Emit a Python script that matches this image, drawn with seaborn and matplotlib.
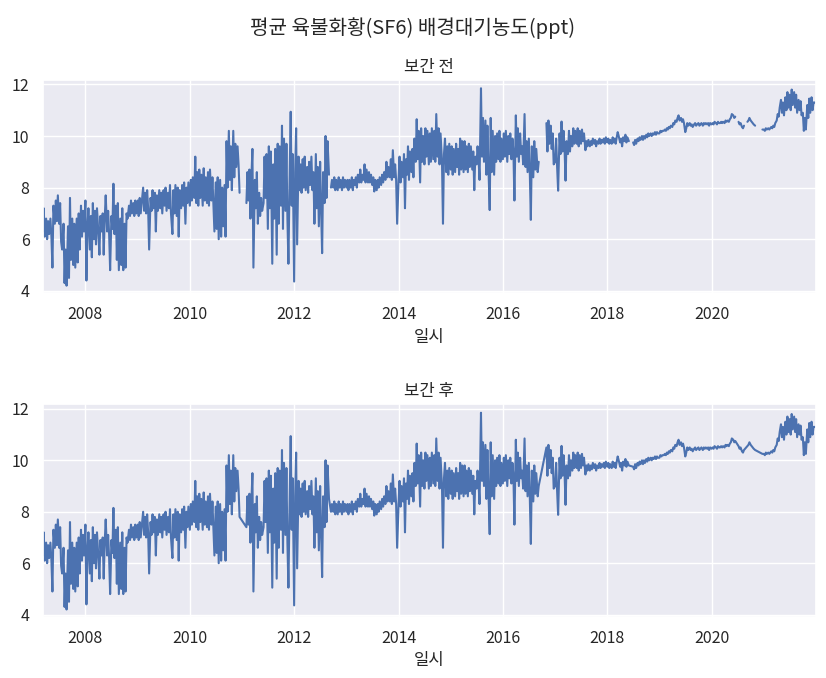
import numpy as np
import pandas as pd
import matplotlib
matplotlib.use("Agg")
import matplotlib.pyplot as plt
import seaborn as sns

# ---- data: readings on the 1st, 8th, 15th and 22nd of each month (ppt), NaN = missing ----
nan = np.nan
start_date = "2007-03-08"
end_date = "2021-12-31"

v2007 = [6.3, 7.2, 6.1,
         6.8, 6.0, 6.7, 6.2,   6.8, 6.1, 4.9, 7.3,   6.6, 7.5, 6.7, 7.7,
         6.6, 7.4, 5.9, 5.6,   6.6, 4.3, 5.6, 4.2,   6.5, 4.5, 7.6, 5.2,
         6.8, 5.0, 6.6, 4.9,   6.8, 5.1, 7.0, 5.6,   7.3, 6.1, 7.1, 6.3]
v2008 = [7.5, 4.4, 6.4, 7.2,   5.6, 6.9, 5.3, 7.4,   6.0, 7.1, 5.8, 7.2,
         6.2, 5.4, 6.9, 6.3,   7.0, 5.4, 6.8, 7.7,   6.3, 7.1, 6.2, 4.8,
         6.9, 6.4, 8.15, 6.2,  7.3, 5.2, 7.4, 4.8,   6.8, 5.0, 7.2, 4.8,
         6.6, 4.9, 7.0, 6.8,   7.3, 6.9, 7.5, 7.0,   7.4, 6.9, 7.5, 7.0]
v2009 = [7.5, 6.9, 7.6, 7.0,   7.6, 8.0, 7.1, 7.8,   7.0, 7.9, 7.2, 5.6,
         7.6, 7.1, 7.9, 7.2,   7.8, 6.3, 7.7, 7.1,   7.9, 7.2, 7.8, 7.0,
         7.9, 7.3, 8.0, 7.1,   7.8, 7.2, 8.1, 7.0,   6.2, 7.9, 7.0, 8.1,
         6.9, 8.0, 6.1, 7.9,   7.2, 8.1, 7.3, 8.2,   6.6, 8.0, 7.4, 8.2]
v2010 = [7.3, 8.3, 7.5, 8.4,   7.6, 9.2, 7.4, 8.6,   7.3, 8.7, 7.6, 8.5,
         7.3, 8.75, 7.5, 8.4,  7.4, 8.6, 7.3, 8.7,   7.5, 8.4, 7.3, 6.3,
         8.2, 6.4, 8.4, 6.0,   8.3, 6.1, 8.0, 6.5,   8.1, 6.1, 9.8, 8.0,
         10.2, 8.3, 9.6, 7.9,  10.2, 8.4, 9.7, 8.8,  9.6, 8.9, 7.8, nan]
v2011 = [nan, nan, nan, nan,   7.4, 8.6, 7.5, 8.7,   6.8, 8.4, 9.5, 4.9,
         8.3, 7.2, 8.6, 6.6,   7.8, 6.9, 7.6, 7.1,   7.4, 9.2, 7.6, 9.3,
         6.4, 9.6, 7.2, 9.4,   5.05, 8.9, 6.8, 9.5,  5.4, 9.7, 6.6, 9.6,
         7.3, 10.4, 6.4, 9.9,  7.1, 9.7, 6.8, 5.05,  8.6, 10.94, 7.3, 9.3]
v2012 = [4.36, 8.6, 10.3, 5.8, 9.2, 7.9, 8.9, 7.8,   9.1, 8.0, 9.2, 7.9,
         8.8, 7.8, 9.0, 8.1,   9.2, 7.9, 8.6, 6.6,   9.3, 7.2, 8.8, 6.5,
         9.0, 7.1, 5.46, 8.6,  7.4, 10.0, 7.6, 9.8,  8.5, nan, 8.0, 8.3,
         8.0, 8.4, 7.9, 8.3,   7.9, 8.4, 8.0, 8.3,   7.9, 8.4, 8.0, 8.3]
v2013 = [8.0, 8.3, 7.9, 8.3,   8.0, 8.4, 7.9, 8.3,   8.1, 8.4, 8.0, 8.5,
         8.2, 8.7, 8.2, 8.5,   8.3, 8.9, 8.2, 8.7,   8.2, 8.6, 8.2, 8.5,
         8.1, 8.4, 7.85, 8.3,  7.9, 8.3, 8.0, 8.4,   8.1, 8.5, 8.2, 8.6,
         8.3, 9.0, 8.4, 8.8,   8.4, 9.1, 8.3, 9.45,  8.4, 8.9, 8.3, 6.6]
v2014 = [8.3, 9.2, 8.2, 9.0,   8.4, 9.3, 7.2, 9.1,   8.5, 9.6, 8.3, 9.4,
         8.6, 9.5, 8.4, 9.9,   9.0, 10.65, 9.1, 10.2, 8.2, 10.3, 9.0, 10.0,
         8.9, 10.3, 9.2, 10.2, 8.9, 10.1, 9.0, 10.3, 9.1, 10.2, 9.0, 10.85,
         9.2, 10.3, 8.9, 10.1, 9.0, 6.6, 9.3, 9.9,   8.6, 9.6, 8.5, 9.7]
v2015 = [8.7, 9.6, 8.5, 9.5,   8.6, 9.7, 8.8, 9.5,   8.5, 9.9, 8.7, 9.8,
         8.6, 9.8, 8.7, 9.6,   8.6, 9.7, 8.8, 9.6,   8.7, 9.4, 7.9, 9.2,
         8.9, 9.6, 9.1, 8.3,   11.85, 9.2, 10.7, 9.0, 10.6, 8.5, 10.4, 8.8,
         7.13, 10.7, 8.6, 10.2, 8.5, 10.0, 9.0, 10.1, 9.1, 10.2, 9.0, 9.9]
v2016 = [9.1, 10.1, 9.2, 10.2, 9.0, 10.0, 9.3, 10.1, 9.1, 9.9, 9.4, 7.5,
         10.8, 9.2, 10.3, 9.0, 10.1, 9.3, 9.6, 8.9,  10.85, 8.8, 9.8, 8.6,
         9.9, 8.5, 6.75, 9.6,  8.4, 9.8, 8.7, 9.5,   8.6, 9.0, nan, nan,
         nan, nan, nan, nan,   10.5, 9.4, 10.6, 9.7, 10.4, 9.5, 10.1, 8.9]
v2017 = [9.0, 9.9, 8.8, 7.88,  10.1, 9.3, 10.56, 9.4, 10.2, 9.5, 8.27, 9.8,
         9.3, 10.2, 9.4, 10.0, 9.6, 10.3, 9.7, 10.2, 9.7, 10.3, 9.6, 10.2,
         9.7, 10.25, 9.8, 10.1, 9.45, 9.8, 9.6, 9.85, 9.6, 9.8, 9.65, 9.9,
         9.7, 9.85, 9.6, 9.8,  9.7, 9.9, 9.7, 9.85,  9.75, 9.9, 9.7, 9.95]
v2018 = [9.75, 9.9, 9.7, 9.85, 9.7, 9.95, 9.75, 9.9, 9.7, 9.95, 10.15, 10.0,
         9.75, 9.9, 9.6, 9.95, 9.8, 10.05, 9.75, 9.95, 9.8, nan, nan, nan,
         9.75, 9.65, 9.85, 9.7, 9.9, 9.8, 9.95, 9.85, 10.0, 9.85, 10.0, 9.9,
         10.05, 9.95, 10.1, 10.0, 10.1, 10.0, 10.1, 10.05, 10.15, 10.05, 10.15, 10.1]
v2019 = [10.1, 10.2, 10.15, 10.2, 10.2, 10.25, 10.2, 10.3, 10.25, 10.35, 10.3, 10.4,
         10.35, 10.5, 10.45, 10.6, 10.55, 10.7, 10.8, 10.6, 10.7, 10.55, 10.65, 10.5,
         10.15, 10.3, 10.5, 10.4, 10.5, 10.4, 10.45, 10.35, 10.45, 10.5, 10.4, 10.45,
         10.5, 10.4, 10.45, 10.5, 10.4, 10.5, 10.45, 10.5, 10.45, 10.5, 10.4, 10.5]
v2020 = [10.45, 10.5, 10.45, 10.55, 10.5, 10.45, 10.55, 10.5, 10.5, 10.55, 10.5, 10.55,
         10.5, 10.6, 10.55, 10.6, 10.55, 10.65, 10.7, 10.85, 10.8, 10.7, 10.75, nan,
         nan, 10.55, 10.45, 10.5, 10.35, 10.3, 10.4, nan, nan, 10.55, 10.6, 10.7,
         10.6, 10.55, 10.5, 10.45, 10.4, nan, nan, nan, nan, nan, nan, 10.25]
v2021 = [10.25, 10.2, 10.3, 10.25, 10.3, 10.25, 10.3, 10.35, 10.3, 10.4, 10.35, 10.5,
         10.6, 10.85, 10.75, 11.1, 11.4, 10.9, 11.3, 10.8, 11.5, 11.0, 11.7, 11.1,
         11.6, 11.0, 11.8, 11.2, 11.7, 11.1, 11.6, 10.9, 11.4, 11.0, 11.35, 10.8,
         10.9, 10.2, 10.7, 10.25, 11.2, 10.7, 11.45, 10.9, 11.5, 11.0, 11.3, 11.3]

yearly = [v2007, v2008, v2009, v2010, v2011, v2012, v2013, v2014,
          v2015, v2016, v2017, v2018, v2019, v2020, v2021]
values = [v for year in yearly for v in year]

sms = pd.date_range("2007-03-01", end_date, freq="SMS")
dates = sms.union(sms + pd.Timedelta(days=7))
dates = dates[dates >= pd.Timestamp(start_date)]
n = min(len(dates), len(values))

df = pd.DataFrame({"일시": dates[:n], "SF6": values[:n]})
# contiguous runs of valid readings (a missing value breaks the line)
df["구간"] = df["SF6"].isna().cumsum()
df_before = df.dropna()
df_after = df.dropna()   # after: gaps are bridged by the connecting line

# ---- plot ----
sns.set_theme(style="darkgrid")
plt.rcParams["font.family"] = ["Noto Sans CJK KR", "DejaVu Sans"]
plt.rcParams["axes.unicode_minus"] = False

fig = plt.figure(figsize=(8.26, 6.78), dpi=100)
ax1 = fig.add_axes([0.0517, 0.568, 0.936, 0.314])
ax2 = fig.add_axes([0.0517, 0.0904, 0.936, 0.313])

color = sns.color_palette("deep")[0]
sns.lineplot(data=df_before, x="일시", y="SF6", units="구간", estimator=None,
             ax=ax1, color=color, linewidth=1.5)
sns.lineplot(data=df_after, x="일시", y="SF6", ax=ax2, color=color, linewidth=1.5)

for ax, title in [(ax1, "보간 전"), (ax2, "보간 후")]:
    ax.set_title(title, fontsize=12)
    ax.set_xlabel("일시", fontsize=12)
    ax.set_ylabel("")
    ax.set_xlim(pd.Timestamp(start_date), pd.Timestamp(end_date))
    ax.set_ylim(3.92, 12.17)
    ax.tick_params(labelsize=11.5)

fig.suptitle("평균 육불화황(SF6) 배경대기농도(ppt)", fontsize=14.5, y=0.975)

fig.savefig("out.png", dpi=100)
